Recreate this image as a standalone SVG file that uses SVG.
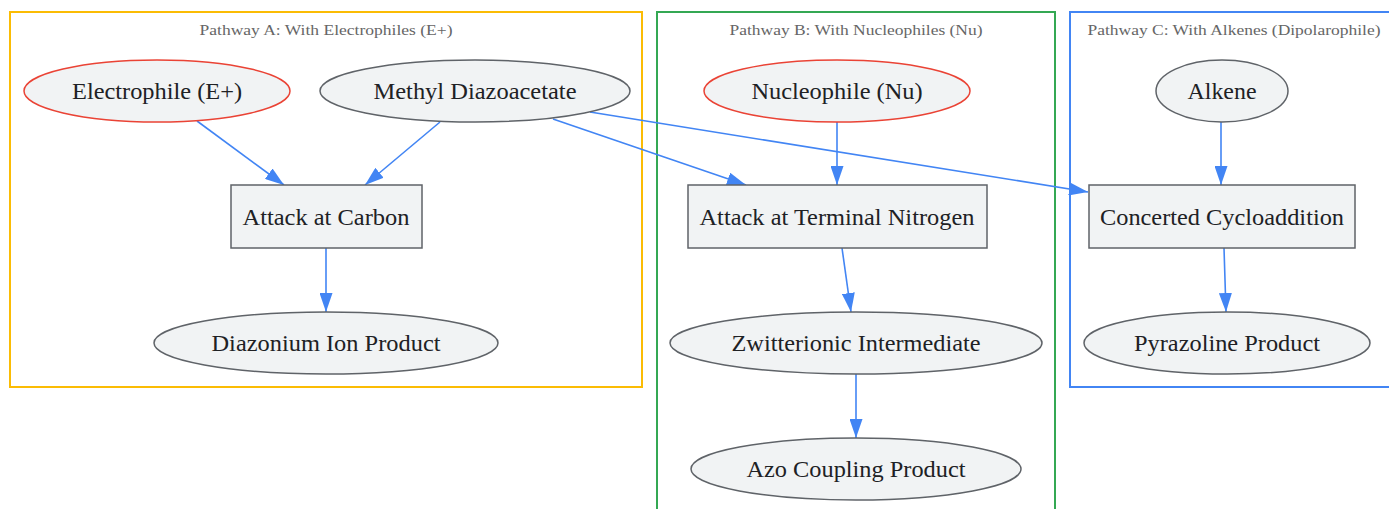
<svg xmlns="http://www.w3.org/2000/svg" width="1389" height="509" viewBox="0 0 1389 509">
<style>
.cl{fill:none;stroke-width:2}
.cll{font-family:"Liberation Serif",serif;font-size:15px;fill:#666;text-anchor:middle}
.n{fill:#f1f3f4;stroke:#5f6368;stroke-width:1.5}
.r{stroke:#ea4335}
.t{font-family:"Liberation Serif",serif;font-size:23px;fill:#202124;text-anchor:middle}
.e{stroke:#4285f4;stroke-width:1.6;fill:none;marker-end:url(#ah)}
</style>
<defs>
<marker id="ah" viewBox="0 0 19 13" refX="19" refY="6.5" markerWidth="19" markerHeight="13" markerUnits="userSpaceOnUse" orient="auto">
<path d="M0,0 L19,6.5 L0,13 Z" fill="#4285f4"/>
</marker>
</defs>
<rect width="1389" height="509" fill="#fff"/>
<g id="clusterA">
<rect class="cl" x="10" y="12" width="632" height="375" stroke="#fbbc04"/>
<text class="cll" x="326" y="35" textLength="253" lengthAdjust="spacingAndGlyphs">Pathway A: With Electrophiles (E+)</text>
</g>
<g id="clusterB">
<rect class="cl" x="657" y="12" width="398" height="510" stroke="#34a853"/>
<text class="cll" x="856" y="35" textLength="253" lengthAdjust="spacingAndGlyphs">Pathway B: With Nucleophiles (Nu)</text>
</g>
<g id="clusterC">
<rect class="cl" x="1070" y="12" width="340" height="375" stroke="#4285f4"/>
<text class="cll" x="1234" y="35" textLength="293" lengthAdjust="spacingAndGlyphs">Pathway C: With Alkenes (Dipolarophile)</text>
</g>
<g id="edges">
<line class="e" x1="197" y1="121" x2="284" y2="185"/>
<line class="e" x1="440" y1="122" x2="365" y2="185"/>
<line class="e" x1="553" y1="119" x2="746" y2="185"/>
<line class="e" x1="590" y1="112" x2="1088" y2="192"/>
<line class="e" x1="837" y1="122" x2="837" y2="185"/>
<line class="e" x1="1221" y1="122" x2="1221" y2="185"/>
<line class="e" x1="326" y1="248" x2="326" y2="312"/>
<line class="e" x1="842" y1="248" x2="851" y2="312"/>
<line class="e" x1="856" y1="374" x2="856" y2="438"/>
<line class="e" x1="1224" y1="248" x2="1226" y2="312"/>
</g>
<g id="electrophile">
<ellipse class="n r" cx="157" cy="91" rx="133" ry="31"/>
<text class="t" x="157" y="99" textLength="170" lengthAdjust="spacingAndGlyphs">Electrophile (E+)</text>
</g>
<g id="methyl_diazoacetate">
<ellipse class="n" cx="475" cy="91" rx="155" ry="31"/>
<text class="t" x="475" y="99" textLength="203" lengthAdjust="spacingAndGlyphs">Methyl Diazoacetate</text>
</g>
<g id="nucleophile">
<ellipse class="n r" cx="837" cy="91" rx="133" ry="31"/>
<text class="t" x="837" y="99" textLength="171" lengthAdjust="spacingAndGlyphs">Nucleophile (Nu)</text>
</g>
<g id="alkene">
<ellipse class="n" cx="1222" cy="91" rx="66" ry="31"/>
<text class="t" x="1222" y="99" textLength="69" lengthAdjust="spacingAndGlyphs">Alkene</text>
</g>
<g id="attack_carbon">
<rect class="n" x="231" y="185" width="191" height="63"/>
<text class="t" x="326" y="225" textLength="167" lengthAdjust="spacingAndGlyphs">Attack at Carbon</text>
</g>
<g id="attack_nitrogen">
<rect class="n" x="688" y="185" width="299" height="63"/>
<text class="t" x="837" y="225" textLength="275" lengthAdjust="spacingAndGlyphs">Attack at Terminal Nitrogen</text>
</g>
<g id="cycloaddition">
<rect class="n" x="1089" y="185" width="266" height="63"/>
<text class="t" x="1222" y="225" textLength="244" lengthAdjust="spacingAndGlyphs">Concerted Cycloaddition</text>
</g>
<g id="diazonium">
<ellipse class="n" cx="326" cy="343" rx="172" ry="31"/>
<text class="t" x="326" y="351" textLength="229" lengthAdjust="spacingAndGlyphs">Diazonium Ion Product</text>
</g>
<g id="zwitterionic">
<ellipse class="n" cx="856" cy="343" rx="186" ry="31"/>
<text class="t" x="856" y="351" textLength="249" lengthAdjust="spacingAndGlyphs">Zwitterionic Intermediate</text>
</g>
<g id="pyrazoline">
<ellipse class="n" cx="1227" cy="343" rx="143" ry="31"/>
<text class="t" x="1227" y="351" textLength="186" lengthAdjust="spacingAndGlyphs">Pyrazoline Product</text>
</g>
<g id="azo">
<ellipse class="n" cx="856" cy="469" rx="165" ry="31"/>
<text class="t" x="856" y="477" textLength="219" lengthAdjust="spacingAndGlyphs">Azo Coupling Product</text>
</g>
</svg>
